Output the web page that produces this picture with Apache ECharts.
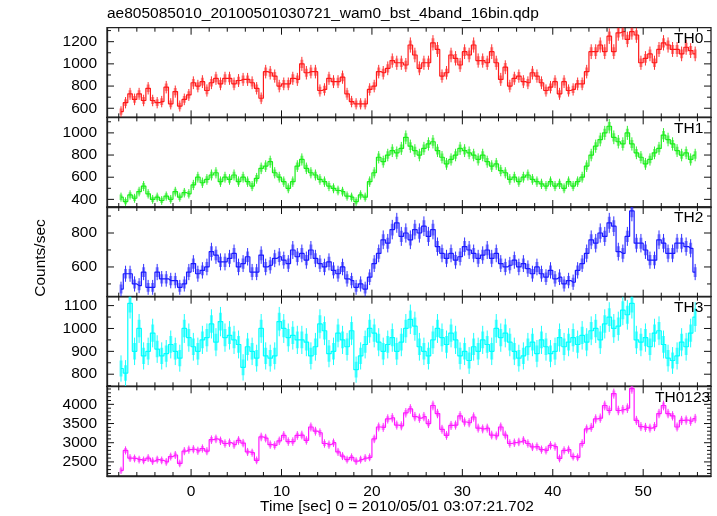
<!DOCTYPE html>
<html><head><meta charset="utf-8">
<script src="https://cdn.jsdelivr.net/npm/echarts@6/dist/echarts.min.js"></script>
<style>html,body{margin:0;padding:0;background:#fff}#c{width:717px;height:516px}</style>
</head><body><div id="c"></div>
<script>
const TITLE = 'ae805085010_20100501030721_wam0_bst_4band_16bin.qdp';
const X_LABEL = 'Time [sec] 0 = 2010/05/01 03:07:21.702';
const Y_LABEL = 'Counts/sec';
const BIN_START = -7.75;
const BIN_WIDTH = 0.5;
const ERR_EXPOSURE = 0.25;
const panelNames = ['TH0', 'TH1', 'TH2', 'TH3', 'TH0123'];

const th0 = [570,650,730,680,730,670,780,670,650,660,790,640,750,620,680,720,
830,800,840,760,830,870,820,870,870,820,850,860,860,830,780,690,
930,920,890,800,820,820,870,860,1000,920,930,930,760,770,870,840,
840,880,730,660,640,640,640,770,800,930,920,960,1030,1010,1010,990,
1170,1080,960,1010,1010,1190,1130,890,920,1080,1050,990,1110,1080,1170,1030,
1030,1010,1110,1010,860,970,800,870,890,840,830,920,890,830,760,790,
840,730,840,760,770,820,820,930,1110,1110,1170,1110,1250,1110,1280,1290,
1220,1290,1260,1010,1050,1090,1010,1130,1190,1170,1130,1130,1090,1150,1120,1090];

const th1 = [420,380,440,410,470,520,450,400,420,390,430,400,470,420,460,450,
530,600,550,580,620,640,560,600,580,620,560,600,560,520,590,680,
700,740,640,600,560,500,560,700,760,680,640,620,580,560,520,500,
480,470,430,420,380,440,420,560,640,780,740,800,840,820,860,960,
880,840,800,860,900,920,840,780,720,760,800,860,840,820,800,760,
800,740,700,720,660,640,580,600,560,600,620,580,560,540,520,560,
520,540,500,560,520,560,600,700,800,880,940,1000,1060,960,920,900,
1000,900,820,780,720,760,820,860,980,940,900,840,800,820,760,800];

const th2 = [470,560,560,500,490,570,480,480,570,530,530,520,520,480,500,570,
620,560,580,600,690,670,630,630,650,680,600,620,660,570,570,670,
600,610,650,660,640,620,700,660,680,640,700,650,620,600,630,580,
560,600,530,520,480,500,470,540,620,680,760,740,820,860,780,800,
760,820,800,840,780,820,720,680,650,680,640,660,720,700,680,650,
670,700,650,680,620,600,610,640,600,620,590,560,600,560,540,580,
530,540,500,520,510,580,620,680,760,740,800,780,860,840,690,680,
780,930,740,740,700,640,640,760,740,680,680,740,740,720,710,570];

const th3 = [825,805,1110,900,1000,880,900,980,910,880,890,930,900,870,1000,960,
920,900,950,960,1020,940,1030,960,970,950,930,830,920,900,870,1000,
880,870,880,1030,1000,960,970,950,950,940,880,920,1020,990,890,900,
980,950,920,990,820,880,930,1000,980,940,900,930,960,900,940,1000,
1040,1010,920,900,880,950,1000,960,930,980,950,880,900,860,920,900,
950,930,900,1000,960,980,940,900,870,880,920,940,890,950,920,890,
900,960,920,940,960,930,970,940,990,1000,950,1020,1050,1000,1010,1080,
1060,1110,950,940,960,920,980,990,930,870,860,880,940,920,980,1050];

const th0123 = [2280,2800,2600,2590,2560,2540,2600,2520,2560,2540,2500,2640,2680,2460,2780,2820,
2830,2790,2850,2780,3080,3100,3050,2980,3000,2950,3060,2990,2760,2740,2540,3150,
3120,2950,2930,3050,3190,3030,3030,3190,3200,3060,3410,3300,3260,2980,2950,3000,
2760,2650,2560,2620,2520,2560,2600,2620,3100,3410,3400,3620,3650,3460,3440,3780,
3880,3680,3640,3680,3500,3970,3760,3350,3190,3450,3460,3700,3540,3520,3670,3380,
3360,3380,3200,3180,3410,3200,2980,3000,3020,3060,2980,2890,2900,2820,2800,2930,
2900,2590,2800,2820,2640,2620,2980,3360,3400,3620,3640,3970,3840,4280,3840,3860,
3900,4410,3580,3420,3400,3380,3420,3760,3970,3760,3700,3410,3580,3590,3560,3630];

const panelValues = [th0, th1, th2, th3, th0123];
const panelColors = ['#ff1a1a', '#1aee1a', '#1a1aff', '#00ffff', '#ff1aff'];
const panelLight = ['rgba(255,40,40,0.55)', 'rgba(30,235,30,0.55)', 'rgba(40,40,255,0.55)', 'rgba(0,255,255,0.6)', 'rgba(255,40,255,0.55)'];
const yMin = [518, 331, 425, 747, 2133];
const yMax = [1326, 1140, 953, 1139, 4469];
const yStep = [200, 200, 200, 100, 500];
const yMinorStep = [100, 100, 100, 50, 100];
const ySplit = [5, 5, 3, 5, 5];
const X_MIN = -9.3, X_MAX = 57.5, X_STEP = 10, X_MINOR_STEP = 2;

const FONT = "'Liberation Sans', Arial, Helvetica, sans-serif";
const FS = 15.5;
const GRID_LEFT = 107, GRID_RIGHT = 6, GRID_TOP = 27.7, PANEL_H = 89.66;
const MAJOR_LEN = 7, MINOR_LEN = 4;

const chart = echarts.init(document.getElementById('c'), null, {renderer: 'canvas'});
const grids = [], xAxes = [], yAxes = [], series = [], graphics = [];

function stepFormatter(step) {
  return function (v) {
    const r = Math.round(v / step) * step;
    return Math.abs(v - r) < 1e-6 ? String(r) : '';
  };
}
// tick values on a regular step inside [lo, hi]
function tickValues(lo, hi, step) {
  const out = [];
  for (let v = Math.ceil(lo / step) * step; v <= hi + 1e-9; v += step) out.push(Math.round(v * 1000) / 1000);
  return out;
}
function isMultiple(v, step) { return Math.abs(v / step - Math.round(v / step)) < 1e-6; }

panelNames.forEach((name, k) => {
  grids.push({left: GRID_LEFT, right: GRID_RIGHT, top: GRID_TOP + k * PANEL_H, height: PANEL_H,
    show: true, borderColor: '#222', borderWidth: 1.3, backgroundColor: 'rgba(0,0,0,0)'});
  const isLast = k === panelNames.length - 1;
  xAxes.push({
    type: 'value', gridIndex: k, min: X_MIN, max: X_MAX,
    axisLine: {show: true, lineStyle: {color: '#222', width: 1.3}},
    axisTick: {show: false}, splitLine: {show: false},
    axisLabel: {show: isLast, formatter: stepFormatter(X_STEP), color: '#000', fontSize: FS, fontFamily: FONT, margin: 8}
  });
  yAxes.push({
    type: 'value', gridIndex: k, min: yMin[k], max: yMax[k], splitNumber: ySplit[k],
    axisLine: {show: true, onZero: false, lineStyle: {color: '#222', width: 1.3}},
    axisTick: {show: false}, splitLine: {show: false},
    axisLabel: {formatter: stepFormatter(yStep[k]), color: '#000', fontSize: FS, fontFamily: FONT, margin: 10}
  });
  const vals = panelValues[k];
  const data = vals.map((v, i) => [BIN_START + i * BIN_WIDTH, v, Math.sqrt(v / ERR_EXPOSURE)]);
  const color = panelColors[k], light = panelLight[k];
  series.push({
    type: 'custom', xAxisIndex: k, yAxisIndex: k, clip: true, silent: true,
    data: data,
    renderItem: function (params, api) {
      const t = api.value(0), v = api.value(1), e = api.value(2);
      const lo = api.coord([t, v - e]);
      const hi = api.coord([t, v + e]);
      const lo2 = api.coord([t, v - 0.6 * e]);
      const hi2 = api.coord([t, v + 0.6 * e]);
      return {type: 'group', children: [
        {type: 'line', shape: {x1: lo[0], y1: lo[1], x2: hi[0], y2: hi[1]}, style: {stroke: color, lineWidth: 0.9}},
        {type: 'line', shape: {x1: lo2[0], y1: lo2[1], x2: hi2[0], y2: hi2[1]}, style: {stroke: light, lineWidth: 3}}
      ]};
    }
  });
  series.push({
    type: 'line', xAxisIndex: k, yAxisIndex: k, step: 'middle', symbol: 'none', silent: true,
    clip: true, lineStyle: {color: color, width: 1.2}, data: data.map(d => [d[0], d[1]]), z: 3
  });

  // inward tick marks on all four sides, placed through the axes' own scales
  const tickData = [];
  tickValues(X_MIN, X_MAX, X_MINOR_STEP).forEach(v => tickData.push([v, yMin[k], 0, isMultiple(v, X_STEP) ? 1 : 0]));
  tickValues(yMin[k], yMax[k], yMinorStep[k]).forEach(v => tickData.push([X_MIN, v, 1, isMultiple(v, yStep[k]) ? 1 : 0]));
  series.push({
    type: 'custom', xAxisIndex: k, yAxisIndex: k, clip: false, silent: true, z: 5,
    data: tickData,
    renderItem: function (params, api) {
      const cs = params.coordSys;
      const p = api.coord([api.value(0), api.value(1)]);
      const len = api.value(3) ? MAJOR_LEN : MINOR_LEN;
      const st = {stroke: '#111', lineWidth: 1};
      if (api.value(2) === 0) {
        const x = p[0];
        return {type: 'group', children: [
          {type: 'line', shape: {x1: x, y1: cs.y + cs.height, x2: x, y2: cs.y + cs.height - len}, style: st},
          {type: 'line', shape: {x1: x, y1: cs.y, x2: x, y2: cs.y + len}, style: st}
        ]};
      }
      const y = p[1];
      return {type: 'group', children: [
        {type: 'line', shape: {x1: cs.x, y1: y, x2: cs.x + len, y2: y}, style: st},
        {type: 'line', shape: {x1: cs.x + cs.width, y1: y, x2: cs.x + cs.width - len, y2: y}, style: st}
      ]};
    }
  });

  graphics.push({
    type: 'text', left: name.length > 3 ? 655 : 674, top: GRID_TOP + k * PANEL_H + 3, z: 100,
    style: {text: name, fill: '#000', font: FS + 'px ' + FONT}
  });
});

graphics.push({type: 'text', left: 107, top: 6, style: {text: TITLE, fill: '#000', font: FS + 'px ' + FONT}});
graphics.push({type: 'text', x: 397, y: 507, style: {text: X_LABEL, fill: '#000', font: FS + 'px ' + FONT, textAlign: 'center', textVerticalAlign: 'middle'}});
graphics.push({type: 'text', x: 41, y: 258, rotation: Math.PI / 2, style: {text: Y_LABEL, fill: '#000', font: FS + 'px ' + FONT, textAlign: 'center', textVerticalAlign: 'middle'}});

chart.setOption({
  animation: false,
  backgroundColor: '#fff',
  grid: grids, xAxis: xAxes, yAxis: yAxes, series: series, graphic: graphics
});
</script></body></html>
